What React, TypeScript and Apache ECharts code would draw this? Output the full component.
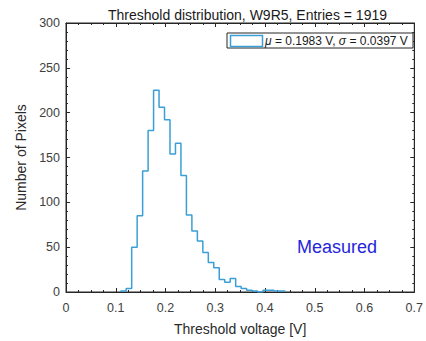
import React, { useEffect, useRef } from "react";
import * as echarts from "echarts";

const titleText = "Threshold distribution, W9R5, Entries = 1919";
const xAxisName = "Threshold voltage [V]";
const yAxisName = "Number of Pixels";
const annotation = "Measured";
const muText = "0.1983 V";
const sigmaText = "0.0397 V";

// bin left edges (V) and counts per bin
const binEdges = [
  0.110, 0.121, 0.132, 0.143, 0.154, 0.165, 0.176, 0.187, 0.198, 0.209,
  0.220, 0.231, 0.242, 0.253, 0.264, 0.275, 0.286, 0.297, 0.308, 0.319,
  0.330, 0.341, 0.352, 0.363, 0.374, 0.385, 0.396, 0.407, 0.418, 0.429,
];
const lastEdge = 0.440;
const counts = [
  1, 4, 50, 85, 135, 180, 225, 206, 192, 154,
  166, 130, 86, 68, 57, 44, 33, 27, 14, 11,
  15, 6, 4, 2, 1, 0, 2, 2, 1, 1,
];

const xTicks = [0, 0.1, 0.2, 0.3, 0.4, 0.5, 0.6, 0.7];
const yTicks = [0, 50, 100, 150, 200, 250, 300];

const FONT = "'Liberation Sans', Arial, Helvetica, sans-serif";
const LINE = "#3a9fd6";
const AX = "#262626";
const TXT = "#404040";

export default function App() {
  const ref = useRef<HTMLDivElement>(null);
  useEffect(() => {
    if (!ref.current) return;
    const chart = echarts.init(ref.current, undefined, { renderer: "svg" });
    const data: [number, number][] = [[binEdges[0], 0]];
    binEdges.forEach((e, i) => data.push([e, counts[i]]));
    data.push([lastEdge, 0]);

    const gl = 66, gr = 419, gt = 23, gb = 298;
    const xMin = xTicks[0], xMax = xTicks[xTicks.length - 1];
    const yMin = yTicks[0], yMax = yTicks[yTicks.length - 1];

    const axisCommon = {
      axisLine: { show: true, onZero: false, lineStyle: { color: AX, width: 1 } },
      splitLine: { show: false },
    };

    chart.setOption({
      animation: false,
      textStyle: { fontFamily: FONT },
      title: {
        text: titleText,
        left: (gl + gr) / 2,
        textAlign: "center",
        top: 3,
        textStyle: { fontFamily: FONT, fontSize: 14, fontWeight: "normal", color: "#1a1a1a" },
      },
      grid: {
        left: gl,
        right: 426 - gr,
        top: gt,
        bottom: 341 - gb,
        show: true,
        backgroundColor: "#fff",
        borderColor: AX,
        borderWidth: 1,
      },
      xAxis: [
        {
          type: "value",
          min: xMin,
          max: xMax,
          interval: 0.1,
          position: "bottom",
          ...axisCommon,
          axisTick: { show: true, inside: true, length: 4, lineStyle: { color: AX } },
          minorTick: { show: true, splitNumber: 4, length: 2, lineStyle: { color: AX } },
          axisLabel: {
            show: true,
            margin: 9,
            fontSize: 12.5,
            color: TXT,
            fontFamily: FONT,
            formatter: (v: number) => String(+v.toFixed(1)),
          },
          name: xAxisName,
          nameLocation: "middle",
          nameGap: 30,
          nameTextStyle: { fontSize: 14, color: "#2a2a2a", fontFamily: FONT },
        },
        {
          type: "value",
          min: xMin,
          max: xMax,
          interval: 0.1,
          position: "top",
          ...axisCommon,
          axisTick: { show: true, inside: true, length: 4, lineStyle: { color: AX } },
          minorTick: { show: true, splitNumber: 4, length: 2, lineStyle: { color: AX } },
          axisLabel: { show: false },
        },
      ],
      yAxis: [
        {
          type: "value",
          min: yMin,
          max: yMax,
          interval: 50,
          position: "left",
          ...axisCommon,
          axisTick: { show: true, inside: true, length: 4, lineStyle: { color: AX } },
          minorTick: { show: true, splitNumber: 5, length: 2, lineStyle: { color: AX } },
          axisLabel: { show: true, margin: 6, fontSize: 12.5, color: TXT, fontFamily: FONT },
          name: yAxisName,
          nameLocation: "middle",
          nameGap: 36,
          nameTextStyle: { fontSize: 14, color: "#2a2a2a", fontFamily: FONT },
        },
        {
          type: "value",
          min: yMin,
          max: yMax,
          interval: 50,
          position: "right",
          ...axisCommon,
          axisTick: { show: true, inside: true, length: 4, lineStyle: { color: AX } },
          minorTick: { show: true, splitNumber: 5, length: 2, lineStyle: { color: AX } },
          axisLabel: { show: false },
        },
      ],
      series: [
        {
          type: "line",
          xAxisIndex: 0,
          yAxisIndex: 0,
          step: "end",
          data,
          showSymbol: false,
          symbol: "none",
          lineStyle: { color: LINE, width: 1.5 },
          z: 5,
        },
      ],
      graphic: [
        {
          type: "rect",
          z: 100,
          shape: { x: 227, y: 33, width: 186, height: 15 },
          style: { fill: "#fff", stroke: AX, lineWidth: 1 },
        },
        {
          type: "rect",
          z: 101,
          shape: { x: 230.5, y: 35.5, width: 32, height: 11 },
          style: { fill: "#fff", stroke: LINE, lineWidth: 1.5 },
        },
        {
          type: "text",
          z: 101,
          x: 265,
          y: 41,
          style: {
            text: "{i|μ} = " + muText + ", {i|σ} = " + sigmaText,
            fontFamily: FONT,
            fontSize: 12,
            fill: "#1a1a1a",
            verticalAlign: "middle",
            rich: {
              i: { fontStyle: "italic", fontFamily: FONT, fontSize: 12, fill: "#1a1a1a" },
            },
          },
        },
        {
          type: "text",
          z: 100,
          x: 297,
          y: 246.5,
          style: {
            text: annotation,
            fontFamily: FONT,
            fontSize: 18,
            fill: "#2525dc",
            verticalAlign: "middle",
          },
        },
      ],
    });
    return () => chart.dispose();
  }, []);
  return (
    <div
      ref={ref}
      style={{ position: "fixed", left: 0, top: 0, width: 426, height: 341, background: "#fff" }}
    />
  );
}
